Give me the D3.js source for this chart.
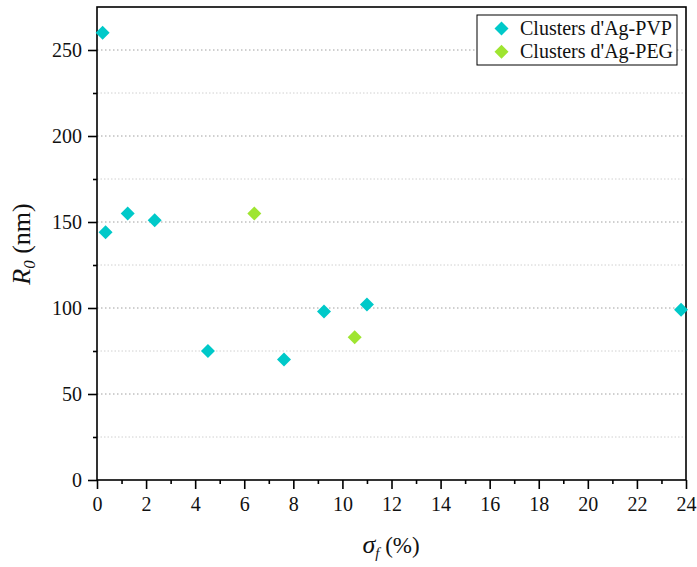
<!DOCTYPE html>
<html><head><meta charset="utf-8">
<script src="https://cdn.jsdelivr.net/npm/d3@7"></script>
<style>body{margin:0;background:#fff}svg{display:block}</style>
</head><body>
<script>
const pvpX = [0.23, 0.35, 1.25, 2.35, 4.52, 7.62, 9.25, 11.0, 23.8];
const pvpY = [260, 144, 155, 151, 75, 70, 98, 102, 99];
const pegX = [6.41, 10.5];
const pegY = [155, 83];
const xTicks = [0,2,4,6,8,10,12,14,16,18,20,22,24];
const yTicks = [0,50,100,150,200,250];
const seriesNames = ["Clusters d'Ag-PVP", "Clusters d'Ag-PEG"];
const colors = ["#00c9c9", "#9fe531"];

const W = 697, H = 567;
const m = {l: 97, r: 686, t: 7, b: 480};
const svg = d3.select("body").append("svg").attr("width", W).attr("height", H);
const font = "Liberation Serif";
const x = d3.scaleLinear().domain([0, 24]).range([m.l, m.r]);
const y = d3.scaleLinear().domain([0, 275]).range([m.b, m.t]);

// grid
const minorY = d3.range(25, 275, 50);
svg.append("g").selectAll("line").data(minorY).join("line")
  .attr("x1", m.l).attr("x2", m.r).attr("y1", d => y(d)).attr("y2", d => y(d))
  .attr("stroke", "#d0d0d0").attr("stroke-width", 1).attr("stroke-dasharray", "1.5,2");
svg.append("g").selectAll("line").data(yTicks.filter(d => d > 0)).join("line")
  .attr("x1", m.l).attr("x2", m.r).attr("y1", d => y(d)).attr("y2", d => y(d))
  .attr("stroke", "#a0a0a0").attr("stroke-width", 1).attr("stroke-dasharray", "1.5,2.5");

// axes
const xAxis = svg.append("g").attr("transform", `translate(0,${m.b})`)
  .call(d3.axisBottom(x).tickValues(xTicks).tickSize(9).tickSizeOuter(0).tickPadding(8));
const xMinor = svg.append("g").attr("transform", `translate(0,${m.b})`)
  .call(d3.axisBottom(x).tickValues(d3.range(1, 24, 2)).tickSize(4).tickFormat("").tickSizeOuter(0));
const yAxis = svg.append("g").attr("transform", `translate(${m.l},0)`)
  .call(d3.axisLeft(y).tickValues(yTicks).tickSize(9).tickSizeOuter(0).tickPadding(6));
const yMinor = svg.append("g").attr("transform", `translate(${m.l},0)`)
  .call(d3.axisLeft(y).tickValues(minorY).tickSize(4).tickFormat("").tickSizeOuter(0));
[xAxis, xMinor, yAxis, yMinor].forEach(g => {
  g.attr("font-family", font).attr("font-size", 20);
  g.selectAll("path").remove();
  g.selectAll("line").attr("stroke", "#000").attr("stroke-width", 1.6);
  g.selectAll("text").attr("fill", "#111");
});
// frame
svg.append("rect").attr("x", m.l).attr("y", m.t).attr("width", m.r - m.l).attr("height", m.b - m.t)
  .attr("fill", "none").attr("stroke", "#000").attr("stroke-width", 1.6);

// points
const sym = d3.symbol().type(d3.symbolDiamond2).size(125);
function drawSeries(xs, ys, c) {
  svg.append("g").selectAll("path").data(xs.map((v, i) => [v, ys[i]])).join("path")
    .attr("d", sym).attr("transform", d => `translate(${x(d[0])},${y(d[1])})`)
    .attr("fill", c);
}
drawSeries(pvpX, pvpY, colors[0]);
drawSeries(pegX, pegY, colors[1]);

// legend
const lg = svg.append("g").attr("font-family", font).attr("font-size", 20);
lg.append("rect").attr("x", 477).attr("y", 15).attr("width", 200).attr("height", 50)
  .attr("fill", "#fff").attr("stroke", "#000").attr("stroke-width", 1);
seriesNames.forEach((n, i) => {
  const cy = 28.5 + i * 23.3;
  lg.append("path").attr("d", sym).attr("transform", `translate(501.5,${cy})`).attr("fill", colors[i]);
  lg.append("text").attr("x", 520).attr("y", cy + 6.5).text(n).attr("fill", "#111");
});

// axis titles
const yl = svg.append("text").attr("transform", "translate(30,244) rotate(-90)")
  .attr("text-anchor", "middle").attr("font-family", font).attr("font-size", 26).attr("fill", "#111");
yl.append("tspan").attr("font-style", "italic").text("R");
yl.append("tspan").attr("font-style", "italic").attr("font-size", 17).attr("dy", 5).text("0");
yl.append("tspan").attr("dy", -5).text(" (nm)");

const xl = svg.append("text").attr("x", 391).attr("y", 553)
  .attr("text-anchor", "middle").attr("font-family", font).attr("font-size", 23).attr("fill", "#111");
xl.append("tspan").attr("font-style", "italic").attr("font-size", 26).text("σ");
xl.append("tspan").attr("font-style", "italic").attr("font-size", 15).attr("dy", 5).text("f");
xl.append("tspan").attr("dy", -5).text(" (%)");
</script>
</body></html>
